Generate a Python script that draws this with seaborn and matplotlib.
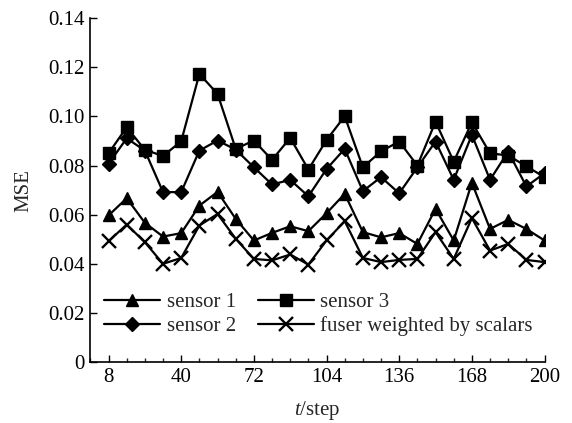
import numpy as np
import pandas as pd
import seaborn as sns
import matplotlib.pyplot as plt
from matplotlib.ticker import MultipleLocator, FuncFormatter

steps = [8, 16, 24, 32, 40, 48, 56, 64, 72, 80, 88, 96, 104,
         112, 120, 128, 136, 144, 152, 160, 168, 176, 184, 192, 200]

sensor1 = [0.0597, 0.0667, 0.0567, 0.0511, 0.0525, 0.0637, 0.0693, 0.0583, 0.0495,
           0.0526, 0.0553, 0.0533, 0.0606, 0.0685, 0.0529, 0.0508, 0.0525, 0.0481,
           0.0624, 0.0495, 0.0730, 0.0542, 0.0579, 0.0542, 0.0495]
sensor2 = [0.0807, 0.0911, 0.0861, 0.0692, 0.0692, 0.0861, 0.0902, 0.0865, 0.0793,
           0.0723, 0.0742, 0.0675, 0.0786, 0.0868, 0.0696, 0.0753, 0.0687, 0.0793,
           0.0898, 0.0742, 0.0925, 0.0742, 0.0857, 0.0715, 0.0769]
sensor3 = [0.0850, 0.0956, 0.0864, 0.0839, 0.0899, 0.1173, 0.1092, 0.0868, 0.0902,
           0.0823, 0.0913, 0.0784, 0.0904, 0.1001, 0.0793, 0.0858, 0.0898, 0.0800,
           0.0979, 0.0816, 0.0976, 0.0850, 0.0841, 0.0797, 0.0753]
fuser = [0.0492, 0.0560, 0.0488, 0.0400, 0.0424, 0.0556, 0.0603, 0.0502, 0.0420,
         0.0414, 0.0438, 0.0397, 0.0495, 0.0574, 0.0424, 0.0407, 0.0416, 0.0420,
         0.0529, 0.0420, 0.0586, 0.0454, 0.0481, 0.0416, 0.0407]

labels = ['sensor 1', 'sensor 2', 'sensor 3', 'fuser weighted by scalars']

sns.set_style('ticks')
plt.rcParams['font.family'] = ['Liberation Serif', 'DejaVu Serif']
plt.rcParams['mathtext.fontset'] = 'custom'
plt.rcParams['mathtext.rm'] = 'Liberation Serif'
plt.rcParams['mathtext.it'] = 'Liberation Serif:italic'

fs = 15

fig = plt.figure(figsize=(5.72, 4.23), dpi=100)
ax = fig.add_axes([0.158, 0.144, 0.794, 0.813])

styles = [
    (sensor1, '^', 9, 1.0),
    (sensor2, 'D', 7.5, 1.0),
    (sensor3, 's', 8, 1.0),
    (fuser, 'x', 10, 1.7),
]
for (vals, mk, ms, mew), lab in zip(styles, labels):
    sns.lineplot(x=steps, y=vals, ax=ax, color='black', linewidth=1.6,
                 marker=mk, markersize=ms, markeredgewidth=mew,
                 markeredgecolor='black', label=lab)

ax.set_xlim(0, 200)
ax.set_ylim(0, 0.14)
ax.xaxis.set_major_locator(plt.FixedLocator([8, 40, 72, 104, 136, 168, 200]))
ax.xaxis.set_minor_locator(MultipleLocator(8))
ax.yaxis.set_major_locator(MultipleLocator(0.02))
ax.yaxis.set_major_formatter(FuncFormatter(lambda v, p: '0' if abs(v) < 1e-9 else f'{v:.2f}'))

ax.tick_params(which='major', direction='in', length=5, width=1, labelsize=fs, pad=4, colors='black')
ax.tick_params(which='minor', direction='in', length=3, width=1)
sns.despine(ax=ax)
for s in ['left', 'bottom']:
    ax.spines[s].set_linewidth(1.2)
    ax.spines[s].set_color('black')

ax.set_xlabel('$t$/step', fontsize=fs, labelpad=9)
ax.set_ylabel('MSE', fontsize=fs, labelpad=11)

h, l = ax.get_legend_handles_labels()
ax.legend(h, l, ncol=2, loc='upper left', bbox_to_anchor=(0.03, 0.202),
          frameon=False, fontsize=fs, handlelength=2.7, handletextpad=0.3,
          columnspacing=1.05, labelspacing=0.2, borderpad=0, borderaxespad=0)

fig.savefig('out.png', dpi=100)
